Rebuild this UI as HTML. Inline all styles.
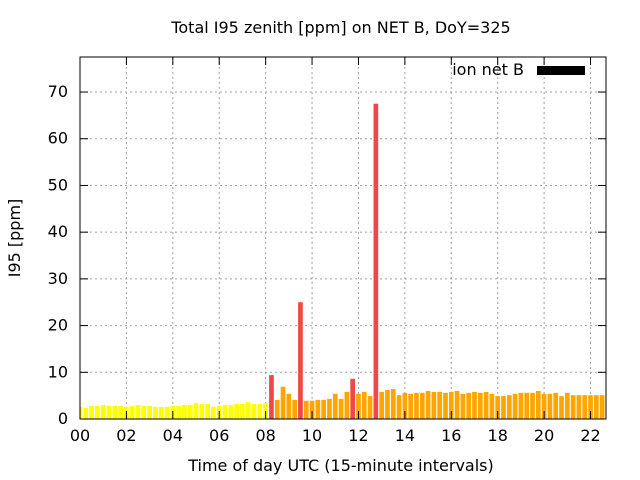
<!DOCTYPE html>
<html><head><meta charset="utf-8"><style>
body{margin:0;background:#fff}
svg{display:block;font-family:"DejaVu Sans","Liberation Sans",sans-serif}
</style></head><body>
<svg id="c" width="640" height="480" viewBox="0 0 640 480">
<text x="341" y="33" text-anchor="middle" font-size="16">Total I95 zenith [ppm] on NET B, DoY=325</text>
<text x="341" y="471" text-anchor="middle" font-size="16">Time of day UTC (15-minute intervals)</text>
<text transform="translate(20,238) rotate(-90)" text-anchor="middle" font-size="16">I95 [ppm]</text>
<g id="grid"></g>
<g id="bars"></g>
<g id="axes"></g>
<g>
<text x="524" y="75" text-anchor="end" font-size="16">ion net B</text>
<rect x="537" y="66" width="48" height="9" fill="#000"></rect>
</g>
</svg>
<script>
const values=[2.6,2.4,2.8,2.8,3.0,2.8,2.8,2.8,2.6,2.8,3.0,2.8,2.8,2.6,2.6,2.6,2.8,2.8,3.0,3.0,3.4,3.2,3.2,2.6,2.8,3.0,3.0,3.2,3.2,3.6,3.2,3.2,3.4,9.4,4.1,6.9,5.4,4.1,25.0,3.9,3.9,4.1,4.1,4.3,5.4,4.3,5.8,8.6,5.4,5.8,4.9,67.5,5.8,6.2,6.4,5.1,5.6,5.4,5.6,5.6,6.0,5.8,5.8,5.6,5.8,6.0,5.4,5.6,5.8,5.6,5.8,5.4,4.9,4.9,5.1,5.4,5.6,5.6,5.6,6.0,5.4,5.4,5.6,4.9,5.6,5.1,5.1,5.1,5.1,5.1,5.1];
const yTicks=[0,10,20,30,40,50,60,70];
const xTicks=["00","02","04","06","08","10","12","14","16","18","20","22"];
const X0=80,X1=606,Y0=419,Y1=57,HMAX=22.667,VMAX=77.5;
const sx=h=>X0+h/HMAX*(X1-X0);
const sy=v=>Y0-v/VMAX*(Y0-Y1);
const NS="http://www.w3.org/2000/svg";
function mk(tag,attrs,parent){const e=document.createElementNS(NS,tag);for(const k in attrs)e.setAttribute(k,attrs[k]);parent.appendChild(e);return e;}
const grid=document.getElementById('grid'),bars=document.getElementById('bars'),axes=document.getElementById('axes');
yTicks.forEach(v=>{
 const y=sy(v);
 if(v>0){const l=mk('line',{x1:X0,x2:X1,y1:y,y2:y,stroke:'#a0a0a0','stroke-dasharray':'2,3'},grid);
 
 }
 mk('line',{x1:X0,x2:X0+8,y1:y,y2:y,stroke:'#000'},axes);
 mk('line',{x1:X1,x2:X1-8,y1:y,y2:y,stroke:'#000'},axes);
 const t=mk('text',{x:X0-12,y:y+5,'text-anchor':'end','font-size':16},axes);t.textContent=v;
 
 
});
xTicks.forEach(s=>{
 const x=sx(+s);
 if(+s>0){const l=mk('line',{x1:x,x2:x,y1:Y0,y2:Y1,stroke:'#a0a0a0','stroke-dasharray':'2,3'},grid);
 
 }
 mk('line',{x1:x,x2:x,y1:Y0,y2:Y0-8,stroke:'#000'},axes);
 mk('line',{x1:x,x2:x,y1:Y1,y2:Y1+8,stroke:'#000'},axes);
 const t=mk('text',{x:x,y:Y0+22,'text-anchor':'middle','font-size':16},axes);t.textContent=s;
 
 
});
const bw=4.7;
values.forEach((v,i)=>{
 const xc=sx(i*0.25);
 let x=xc-bw/2,w=bw; if(x<X0){w-=X0-x;x=X0;}
 const col=v>=7?'#f04848':(i<=32?'#ffff00':'#ffa500');
 const r=mk('rect',{x:x,y:sy(v),width:w,height:Y0-sy(v),fill:col},bars);
 
 
});
const b=mk('rect',{x:X0,y:Y1,width:X1-X0,height:Y0-Y1,fill:'none',stroke:'#000','stroke-width':1},axes);


</script>
</body></html>
